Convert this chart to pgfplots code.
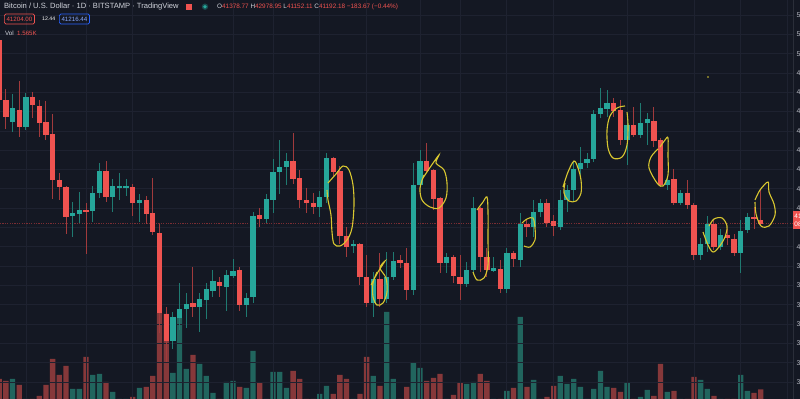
\documentclass[border=0pt]{standalone}
\usepackage{pgfplots}
\pgfplotsset{compat=1.18}
\usepackage{pgfplotstable}
\usepackage{fontspec}
\setmainfont{Liberation Sans}
\definecolor{bgcol}{HTML}{141823}
\definecolor{gridcol}{HTML}{1E2230}
\definecolor{upcol}{HTML}{26A69A}
\definecolor{dncol}{HTML}{EF5350}
\definecolor{upwick}{HTML}{1F7A71}
\definecolor{dnwick}{HTML}{A13A3C}
\definecolor{upvol}{HTML}{21655E}
\definecolor{dnvol}{HTML}{86383A}
\definecolor{txtcol}{HTML}{D1D4DC}
\definecolor{tickcol}{HTML}{B2B5BE}
\definecolor{pencol}{HTML}{D8C730}
\definecolor{bluecol}{HTML}{2962FF}
\definecolor{sepcol}{HTML}{2A2E39}
\definecolor{redline}{HTML}{7A2D33}

% up (green) candles: index, open, high, low, close, volume
\pgfplotstableread{
i o h l c v
2 46461 47911 45943 47186 2600
4 46203 47963 46047 47756 400
11 41595 42320 40509 41751 1600
12 41699 42838 41234 41906 1600
14 41854 43148 41285 42787 3000
15 42787 44339 42528 43925 3100
17 42580 43511 41802 43148 1300
18 43097 43822 42424 43148 400
19 43097 43511 42631 43148 300
21 42269 42735 41285 42424 1700
26 35126 36626 34712 36368 3200
27 36317 38128 35695 36782 8700
28 36782 37611 35799 37041 3600
30 36886 37611 35591 37300 4100
31 37248 38128 36265 37818 2900
32 37714 38801 37403 38231 1200
34 37921 38801 36678 38542 2300
35 38490 39370 38387 38749 2400
37 36989 37611 36368 37352 1700
38 37403 41802 37093 41595 5400
40 41441 42735 41234 42476 500
41 42424 44546 41751 43873 3300
42 43873 45530 42735 44132 3300
43 44132 44857 43200 44442 1700
48 42062 42890 41544 42580 1100
49 42580 44857 42269 44598 1900
53 40043 40354 39681 40147 400
56 37093 38697 36368 38335 2900
58 37300 39732 37093 38439 9300
59 38439 39732 38283 39266 2600
62 37766 44339 37507 43200 4200
63 43200 45012 43045 44442 3700
67 39163 39681 38646 39474 500
70 38076 39214 37921 38801 2100
71 38801 42580 38646 42010 2300
74 38749 39474 38697 38905 400
76 37818 39940 37611 39681 1400
78 39318 41751 38956 41182 8800
80 41027 42424 40509 41802 2500
81 41802 42476 41544 42269 500
84 41027 42942 40871 42424 2900
85 42424 43200 41802 42942 2100
86 42942 44390 42320 44029 2600
87 44029 45168 43615 44339 1800
88 44339 44857 44081 44546 500
89 44546 47082 44390 46875 1600
90 46875 48221 46668 47186 3400
91 47134 48118 46720 47445 1800
94 45530 46565 44235 46306 2200
96 45788 47445 45634 46410 800
97 46410 46927 45271 46616 1500
100 43200 43615 42942 43459 1300
102 42269 42942 42165 42787 400
105 39577 40458 39318 40147 2500
106 40147 41595 39732 41182 1600
108 39992 40923 39836 40612 400
111 39681 41389 38646 40819 3000
112 40871 41751 40716 41544 1400
}\upT

% down (red) candles
\pgfplotstableread{
i o h l c v
0 50706 50810 47548 47600 2600
1 47600 48170 46099 46720 2400
3 47082 48583 45685 46203 2000
5 47756 48014 46668 47341 300
6 47289 47600 45685 46410 900
7 46461 47548 45530 45788 2000
8 45840 46875 42476 43459 4600
9 43459 43822 42424 43097 3000
10 43097 43148 40664 41544 3900
13 41906 42269 39629 41854 4800
16 43925 44442 42320 42580 2300
20 43097 43252 41595 42269 800
22 42424 42631 41182 41699 1800
23 41751 43563 40612 40767 2900
24 40716 41182 35540 36575 9200
25 36523 36886 34038 35126 9100
29 37093 38956 36368 36886 5000
33 38179 38439 37403 37972 400
36 38801 38956 36678 36989 1800
39 41647 42010 41027 41441 2200
44 44442 45892 43252 43511 3400
45 43563 43977 42010 42424 2600
46 42424 43045 41751 42269 500
47 42269 42787 41699 42062 400
50 44598 44650 43615 43873 1100
51 43925 44183 40147 40560 3000
52 40560 41027 39474 39992 2600
54 40147 40199 38024 38439 1100
55 38439 39577 36886 37093 4800
57 38335 39681 36886 37300 1900
60 39318 39577 38905 39163 500
61 39163 39940 37248 37766 1800
64 44442 45375 43822 43925 2400
65 43977 44029 41906 42476 2700
66 42528 42580 38646 39163 3100
68 39474 39577 38128 38490 1000
69 38439 39577 37248 38076 2200
72 42010 42062 38697 39474 3100
73 39474 39940 38439 38801 2400
75 38853 39318 37611 37818 500
77 39681 39784 38956 39370 1700
79 41182 41389 40509 41027 1800
82 42269 42476 41027 41234 800
83 41337 41647 40560 41078 1900
92 47445 47704 46720 47030 1700
93 47082 47600 45271 45530 1300
95 46306 47238 45685 45788 400
98 46513 47238 45168 45478 900
99 45530 45634 43097 43200 4100
101 43511 44029 42165 42269 1400
103 42787 43459 41958 42165 500
104 42165 42269 39318 39577 2800
107 41182 41389 39836 39992 900
109 40612 40923 40095 40457 400
110 40406 40664 39525 39681 500
113 41544 42062 40923 41441 1200
114 41378.77 42978.95 41152.11 41192.18 1565
}\dnT

\pgfplotsset{
  tvbase/.style={scale only axis, width=793bp, height=399bp, at={(0,0)}, anchor=south west},
  candle/.style 2 args={draw=none, mark=none, forget plot,
    error bars/y dir=both, error bars/y explicit, error bars/error mark=none,
    error bars/error bar style={draw=#1, solid, line width=#2}},
  loop/.style={draw=pencol, solid, line width=1.1bp, smooth, tension=0.55, mark=none}
}
\newcommand\hdrfont{\fontsize{7.6}{9}\selectfont}
\newcommand\ohlcfont{\fontsize{6.4}{8}\selectfont}
\newcommand\smfont{\fontsize{6.2}{7}\selectfont}

\begin{document}
\begin{tikzpicture}
\useasboundingbox (0,0) rectangle (800bp,399bp);
\begin{pgfinterruptboundingbox}
\begin{scope}
\clip (0,0) rectangle (800bp,399bp);
\fill[bgcol] (0,0) rectangle (800bp,399bp);

% volume pane
\begin{axis}[tvbase, xmin=0.12, xmax=118.83, ymin=600, ymax=40500, hide axis,
  ybar, bar width=5.3bp, bar shift=0pt]
\addplot[draw=none, fill=upvol] table[x=i, y=v]{\upT};
\addplot[draw=none, fill=dnvol] table[x=i, y=v]{\dnT};
\end{axis}

% price pane
\begin{axis}[tvbase, xmin=0.12, xmax=118.83, ymin=32124, ymax=52776,
  axis x line*=bottom, axis y line*=right,
  x axis line style={draw=none}, y axis line style={draw=sepcol, line width=1bp},
  xtick={4,13,20,35,41,48,55,63,69,76,83,94,104,111,118}, xticklabels={},
  ytick={33000,34000,...,52000},
  /pgf/number format/assume math mode=true,
  yticklabel={\pgfmathprintnumber[fixed,fixed zerofill,precision=2,1000 sep={}]{\tick}},
  yticklabel style={anchor=west, inner sep=0pt, xshift=3.5bp, font=\fontsize{7}{8}\selectfont, text=tickcol},
  major tick length=0pt,
  xmajorgrids, ymajorgrids, grid style={gridcol, line width=0.8bp}]
\addplot[redline, line width=0.8bp, dash pattern=on 1.2bp off 1.2bp, mark=none] coordinates {(0.12,41192.18) (118.83,41192.18)};
\addplot[candle={upwick}{1bp}]
  table[x=i, y expr={(\thisrow{h}+\thisrow{l})/2}, y error expr={(\thisrow{h}-\thisrow{l})/2}]{\upT};
\addplot[candle={dnwick}{1bp}]
  table[x=i, y expr={(\thisrow{h}+\thisrow{l})/2}, y error expr={(\thisrow{h}-\thisrow{l})/2}]{\dnT};
\addplot[candle={upcol}{5.3bp}]
  table[x=i, y expr={(\thisrow{o}+\thisrow{c})/2}, y error expr={max(abs(\thisrow{o}-\thisrow{c})/2,35)}]{\upT};
\addplot[candle={dncol}{5.3bp}]
  table[x=i, y expr={(\thisrow{o}+\thisrow{c})/2}, y error expr={max(abs(\thisrow{o}-\thisrow{c})/2,35)}]{\dnT};
\end{axis}

% annotations in pixel coordinates
\begin{axis}[tvbase, xmin=0, xmax=793, ymin=0, ymax=399, y dir=reverse, hide axis, clip=false]
\addplot[loop] coordinates {(328,183) (336,174) (343,166) (349,170) (353,185) (354,205) (352,228) (347,240) (340,246) (334,244) (332,232) (331,215) (328,200) (327,190)};
\addplot[loop] coordinates {(371,285) (378,272) (385,261) (380,268) (386,278) (387,292) (383,303) (377,305) (373,297) (373,283) (377,272)};
\addplot[loop] coordinates {(423,178) (431,166) (439,155) (436,163) (444,170) (447,183) (446,198) (439,208) (430,207) (422,200) (420,188) (424,175)};
\addplot[loop] coordinates {(477,210) (483,202) (487,197) (488,212) (488,240) (488,265) (484,278) (477,280) (473,272)};
\addplot[loop] coordinates {(522,223) (527,219) (533,218) (535,228) (535,240) (530,247) (524,246)};
\addplot[loop] coordinates {(563,187) (568,172) (574,161) (578,168) (581,180) (581,193) (576,201) (569,201) (564,193) (565,183)};
\addplot[loop] coordinates {(625,106) (617,108) (610,116) (607,130) (608,148) (613,158) (622,157) (627,145) (628,125) (627,112)};
\addplot[loop] coordinates {(660,147) (665,140) (668,138) (668,155) (668,175) (663,186) (657,183) (649,168) (651,157) (658,149)};
\addplot[loop] coordinates {(703,232) (708,245) (713,252) (719,247) (725,237) (727,226) (722,218) (714,219) (709,226)};
\addplot[loop] coordinates {(755,200) (760,190) (768,182) (769,192) (774,204) (775,215) (769,226) (761,226) (756,214) (755,202)};

% header
\node[anchor=west, inner sep=0pt, text=txtcol, font=\hdrfont] at (axis cs:4,6.7) {Bitcoin / U.S. Dollar · 1D · BITSTAMP · TradingView};
\fill[dncol] (axis cs:185.5,3.6) rectangle (axis cs:191.5,9.8);
\fill[upcol!35!bgcol] (axis cs:205,6.7) circle (3.2bp);
\fill[upcol] (axis cs:205,6.7) circle (1.9bp);
\node[anchor=west, inner sep=0pt, text=dncol, font=\ohlcfont] at (axis cs:217,6.7)
  {{\color{txtcol}O}41378.77 {\color{txtcol}H}42978.95 {\color{txtcol}L}41152.11 {\color{txtcol}C}41192.18 −183.67 (−0.44\%)};
\node[anchor=west, draw=dncol, line width=0.7bp, rounded corners=1.5bp, text=dncol, inner xsep=2.2bp, inner ysep=0pt,
  minimum height=10bp, font=\smfont] at (axis cs:4,19) {41204.00};
\node[anchor=west, inner sep=0pt, text=white, font=\fontsize{5.2}{6}\selectfont] at (axis cs:42,19) {12.44};
\node[anchor=west, draw=bluecol, line width=0.7bp, rounded corners=1.5bp, text=bluecol!55!white, inner xsep=2.2bp, inner ysep=0pt,
  minimum height=10bp, font=\smfont] at (axis cs:59,19) {41216.44};
\node[anchor=west, inner sep=0pt, text=txtcol, font=\smfont] at (axis cs:5,33) {Vol};
\node[anchor=west, inner sep=0pt, text=dncol, font=\smfont] at (axis cs:17,33) {1.565K};
\fill[pencol] (axis cs:708,77) circle (0.8bp);
\node[anchor=north west, fill=dncol, text=white, inner sep=1.2bp, minimum height=18bp, align=left,
  font=\fontsize{6.5}{8}\selectfont] at (axis cs:793,211) {41192.18\\08:42:11};
\end{axis}
\end{scope}
\end{pgfinterruptboundingbox}
\end{tikzpicture}
\end{document}
